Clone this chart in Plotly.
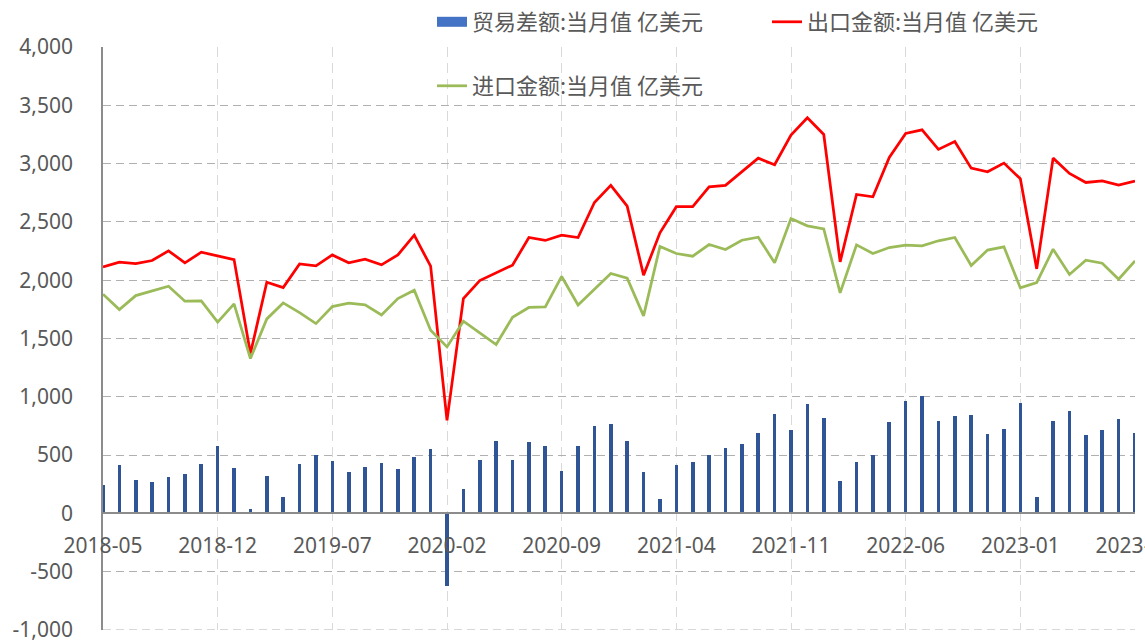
import plotly.graph_objects as go

# Months 2018-05 .. 2023-08
months = []
y, m = 2018, 5
while (y, m) <= (2023, 8):
    months.append(f"{y}-{m:02d}")
    m += 1
    if m > 12:
        m = 1
        y += 1

trade_balance = [243, 417, 283, 269, 309, 337, 423, 575, 391, 37, 320, 140, 420, 503, 446, 354,
                 400, 429, 380, 480, 555, -624, 209, 458, 623, 455, 612, 578, 363, 580, 749, 766,
                 623, 357, 125, 412, 438, 500, 558, 592, 687, 852, 718, 941, 815, 280, 440, 498,
                 781, 961, 1009, 792, 835, 846, 678, 726, 944, 137, 790, 878, 672, 712, 812, 692]

exports = [2114, 2154, 2143, 2169, 2252, 2149, 2240, 2209, 2177, 1371, 1983, 1937, 2140, 2123, 2217, 2149,
           2180, 2132, 2217, 2386, 2120, 798, 1843, 1997, 2066, 2129, 2366, 2341, 2386, 2366, 2667, 2813,
           2635, 2043, 2406, 2630, 2630, 2801, 2813, 2930, 3047, 2990, 3245, 3393, 3250, 2157, 2735, 2715,
           3053, 3259, 3290, 3122, 3190, 2961, 2930, 3004, 2870, 2097, 3047, 2916, 2838, 2852, 2815, 2850]

imports = [1880, 1748, 1868, 1908, 1948, 1820, 1823, 1640, 1797, 1328, 1668, 1805, 1722, 1628, 1774, 1803,
           1788, 1702, 1843, 1914, 1571, 1428, 1648, 1548, 1448, 1682, 1766, 1771, 2032, 1788, 1926, 2057,
           2017, 1694, 2289, 2229, 2206, 2306, 2263, 2343, 2369, 2149, 2529, 2466, 2440, 1891, 2303, 2229,
           2280, 2300, 2295, 2338, 2366, 2126, 2258, 2286, 1934, 1980, 2266, 2049, 2172, 2146, 2009, 2166]

y_tick_vals = [-1000, -500, 0, 500, 1000, 1500, 2000, 2500, 3000, 3500, 4000]
y_tick_text = ["-1,000", "-500", "0", "500", "1,000", "1,500", "2,000", "2,500", "3,000", "3,500", "4,000"]
x_tick_vals = months[::7]

names = ["贸易差额:当月值 亿美元", "出口金额:当月值 亿美元", "进口金额:当月值 亿美元"]

TXT = "#595959"
FONT = "Noto Sans, Noto Sans CJK SC, sans-serif"

fig = go.Figure()
fig.add_trace(go.Bar(x=months, y=trade_balance, name=names[0], width=0.22,
                     marker=dict(color="#2F5597", line=dict(width=0)), showlegend=False))
# legend entry for the bars (wide rectangle icon like the reference)
fig.add_trace(go.Scatter(x=[None], y=[None], name=names[0], mode="lines",
                         line=dict(color="#4472C4", width=14), legend="legend"))
fig.add_trace(go.Scatter(x=months, y=exports, name=names[1], mode="lines",
                         line=dict(color="#FF0000", width=2.75), legend="legend"))
fig.add_trace(go.Scatter(x=months, y=imports, name=names[2], mode="lines",
                         line=dict(color="#9BBB59", width=2.75), legend="legend2"))

zero_pos = 1000 / 5000.0

fig.update_layout(
    width=1145, height=640,
    margin=dict(l=103, r=10, t=47, b=10, autoexpand=False),
    paper_bgcolor="white", plot_bgcolor="white",
    font=dict(family=FONT, size=21, color=TXT),
    bargap=0,
    xaxis=dict(type="category", range=[0, len(months) - 1], tickmode="array", tickvals=x_tick_vals,
               ticktext=x_tick_vals, anchor="free", position=zero_pos,
               showline=True, linecolor="#8c8c8c", linewidth=1.5,
               showgrid=True, gridcolor="#d9d9d9", gridwidth=1, griddash="10px,6px",
               ticks="outside", ticklen=14, tickcolor="rgba(0,0,0,0)", tickangle=0,
               tickfont=dict(size=21, color=TXT, family=FONT), automargin=False,
               ticklabeloverflow="allow"),
    yaxis=dict(range=[-1000, 4000], tickmode="array", tickvals=y_tick_vals, ticktext=y_tick_text,
               showline=True, linecolor="#8c8c8c", linewidth=1.5,
               showgrid=True, gridcolor="#b0b0b0", gridwidth=1, griddash="8px,5px",
               zeroline=False, ticks="outside", ticklen=24, tickcolor="rgba(0,0,0,0)",
               tickfont=dict(size=21, color=TXT, family=FONT), automargin=False,
               ticklabeloverflow="allow"),
    legend=dict(orientation="h", xref="container", yref="container", x=432 / 1145, y=1 - 22 / 640,
                xanchor="left", yanchor="middle", bgcolor="rgba(0,0,0,0)",
                font=dict(size=22, color=TXT, family="Noto Sans CJK SC"),
                entrywidth=290, entrywidthmode="pixels", traceorder="normal"),
    legend2=dict(orientation="h", xref="container", yref="container", x=432 / 1145, y=1 - 86 / 640,
                 xanchor="left", yanchor="middle", bgcolor="rgba(0,0,0,0)",
                 font=dict(size=22, color=TXT, family="Noto Sans CJK SC")),
    showlegend=True,
    shapes=[dict(type="line", xref="paper", yref="y", x0=0, x1=1, y0=-1000, y1=-1000,
                 line=dict(color="#b0b0b0", width=1, dash="8px,5px"), layer="below")],
)

fig.write_html("out.html")
